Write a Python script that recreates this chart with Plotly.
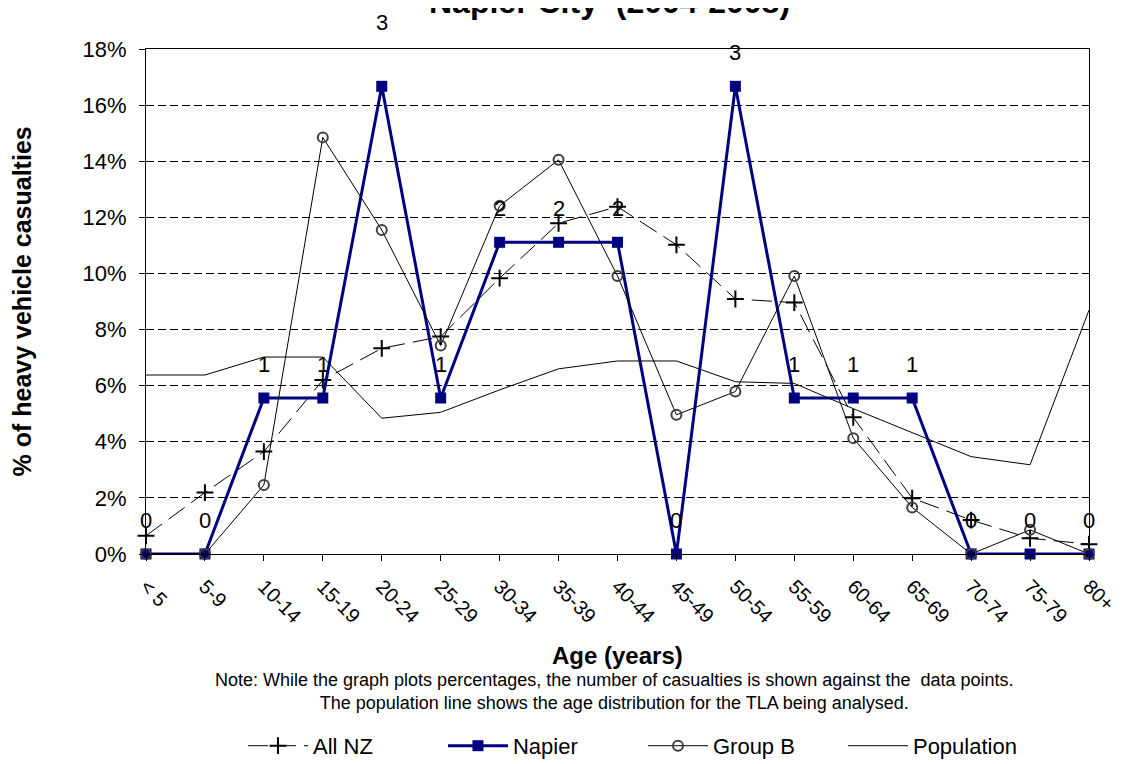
import plotly.graph_objects as go

# age groups on the x axis
ages = ["< 5", "5-9", "10-14", "15-19", "20-24", "25-29", "30-34", "35-39", "40-44",
        "45-49", "50-54", "55-59", "60-64", "65-69", "70-74", "75-79", "80+"]

# percentages
all_nz = [0.65, 2.19, 3.65, 6.20, 7.33, 7.75, 9.83, 11.79, 12.38,
          11.02, 9.09, 8.96, 4.87, 1.99, 1.21, 0.56, 0.35]
napier_counts = [0, 0, 1, 1, 3, 1, 2, 2, 2, 0, 3, 1, 1, 1, 0, 0, 0]
napier_pct = [0, 0, 5.56, 5.56, 16.67, 5.56, 11.11, 11.11, 11.11,
              0, 16.67, 5.56, 5.56, 5.56, 0, 0, 0]
group_b = [0, 0, 2.46, 14.85, 11.55, 7.43, 12.41, 14.05, 9.91,
           4.96, 5.79, 9.91, 4.13, 1.66, 0, 0.86, 0]
population = [6.38, 6.38, 7.02, 7.02, 4.84, 5.05, 5.85, 6.60, 6.88,
              6.88, 6.14, 6.08, 5.18, 4.33, 3.47, 3.18, 8.69]

FONT = "Arial, Liberation Sans, sans-serif"

fig = go.Figure()
fig.add_trace(go.Scatter(
    x=ages, y=all_nz, name="All NZ", mode="lines+markers",
    line={"color": "black", "width": 1, "dash": "20px,8px"},
    marker={"symbol": "cross-thin", "size": 12, "line": {"color": "black", "width": 2}},
    cliponaxis=False))
fig.add_trace(go.Scatter(
    x=ages, y=napier_pct, name="Napier", mode="lines+markers",
    line={"color": "#000080", "width": 3},
    marker={"symbol": "square", "size": 11, "color": "#000080"},
    cliponaxis=False))
fig.add_trace(go.Scatter(
    x=ages, y=group_b, name="Group B", mode="lines+markers",
    line={"color": "black", "width": 1},
    marker={"symbol": "circle-open", "size": 10, "color": "#404040", "line": {"width": 2}},
    cliponaxis=False))
fig.add_trace(go.Scatter(
    x=ages, y=population, name="Population", mode="lines",
    line={"color": "black", "width": 1},
    cliponaxis=False))

# casualty counts against the Napier points
for a, v, c in zip(ages, napier_pct, napier_counts):
    fig.add_annotation(x=a, y=v, text=str(c), showarrow=False, yanchor="middle",
                       yshift=64 if a == "20-24" else 34,
                       font={"size": 22, "color": "black", "family": FONT})

fig.add_annotation(xref="paper", yref="paper", x=0.492, y=1, yshift=47,
                   xanchor="center", yanchor="middle", showarrow=False,
                   text="<b>Napier City  (2004-2008)</b>",
                   font={"size": 32, "color": "black", "family": FONT})
fig.add_annotation(xref="paper", yref="paper", x=0.5, y=-0.2,
                   xanchor="center", yanchor="middle", showarrow=False,
                   text="<b>Age (years)</b>",
                   font={"size": 24, "color": "black", "family": FONT})
fig.add_annotation(xref="paper", yref="paper", x=0.496, y=-0.272,
                   xanchor="center", yanchor="middle", showarrow=False,
                   text="Note: While the graph plots percentages, the number of casualties is shown against the  data points."
                        "<br>The population line shows the age distribution for the TLA being analysed.",
                   font={"size": 18, "color": "black", "family": FONT})
fig.add_annotation(xref="paper", yref="paper", x=-0.1315, y=0.5,
                   xanchor="center", yanchor="middle", showarrow=False,
                   textangle=-90, text="<b>% of heavy vehicle casualties</b>",
                   font={"size": 25, "color": "black", "family": FONT})

# page body adds an 8px offset, so margins are trimmed by 8 on the top/left
fig.update_layout(
    width=1124, height=764,
    margin={"l": 138, "r": 43, "t": 41, "b": 218, "autoexpand": False},
    plot_bgcolor="white", paper_bgcolor="white",
    font={"family": FONT, "color": "black"},
    showlegend=True,
    legend={"orientation": "h", "x": 0.527, "xanchor": "center", "y": -0.38,
            "yanchor": "middle", "font": {"size": 22}, "itemwidth": 60,
            "entrywidth": 125},
)
fig.update_xaxes(type="category", range=[0, 16], showgrid=False, automargin=False,
                 showline=True, linecolor="black", linewidth=1, mirror=True,
                 ticks="outside", ticklen=6, tickcolor="black",
                 tickangle=45, tickfont={"size": 20}, ticklabelstandoff=6)
fig.update_yaxes(range=[0, 18], dtick=2, ticksuffix="%", automargin=False,
                 showgrid=True, gridcolor="black", gridwidth=1, griddash="8px,4px",
                 showline=True, linecolor="black", linewidth=1, mirror=True,
                 ticks="outside", ticklen=6, tickcolor="black",
                 tickfont={"size": 22}, ticklabelstandoff=8, zeroline=False)

fig.write_html("out.html")
